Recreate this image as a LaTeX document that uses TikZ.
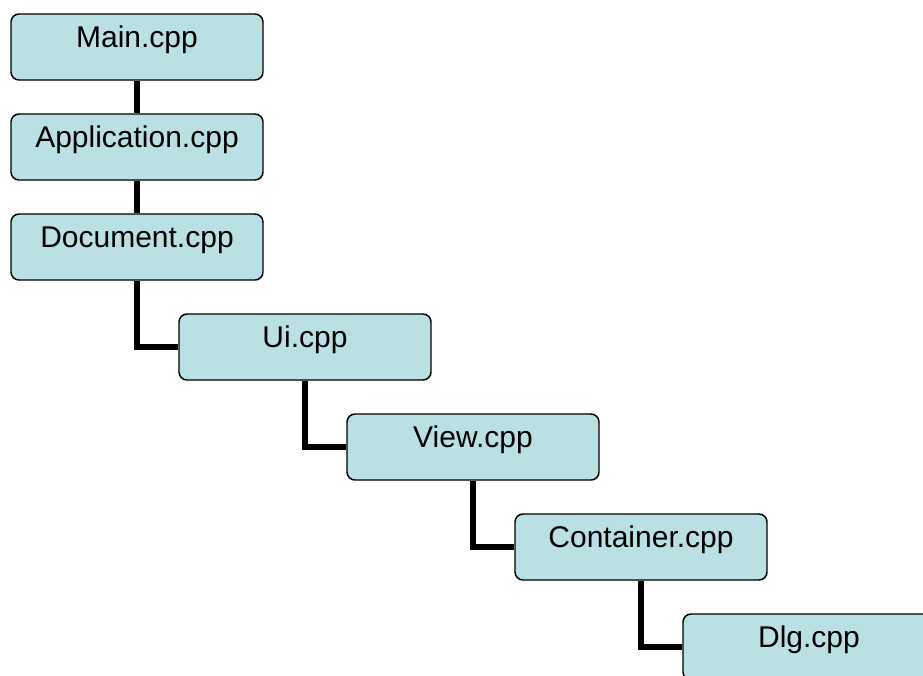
\documentclass[tikz,border=0pt]{standalone}
\usepackage{fontspec}
\setmainfont{Liberation Sans}
\definecolor{boxfill}{RGB}{187,224,227}
\begin{document}
\begin{tikzpicture}[x=0.75pt,y=-0.75pt,
  filebox/.style={draw=black, line width=1.1pt, fill=boxfill, rounded corners=6pt,
    minimum width=189pt, minimum height=49.5pt, inner sep=0pt,
    text height=15pt, text depth=15pt, font=\fontsize{22.5pt}{26pt}\selectfont},
  link/.style={line width=3.8pt, black}]
  \useasboundingbox (0,0) rectangle (923,675);
  \clip (0,0) rectangle (923,675);
  % file boxes, each centred on its column
  \node[filebox] (main) at (137,47) {Main.cpp};
  \node[filebox] (app)  at (137,147) {Application.cpp};
  \node[filebox] (doc)  at (137,247) {Document.cpp};
  \node[filebox] (ui)   at (305,347) {Ui.cpp};
  \node[filebox] (view) at (473,447) {View.cpp};
  \node[filebox] (cont) at (641,547) {Container.cpp};
  \node[filebox] (dlg)  at (809,647) {Dlg.cpp};
  % connectors: straight drops, then elbows into the left side of each box
  \draw[link] (main.south) -- (app.north);
  \draw[link] (app.south) -- (doc.north);
  \draw[link] (doc.south) |- (ui.west);
  \draw[link] (ui.south) |- (view.west);
  \draw[link] (view.south) |- (cont.west);
  \draw[link] (cont.south) |- (dlg.west);
\end{tikzpicture}
\end{document}
